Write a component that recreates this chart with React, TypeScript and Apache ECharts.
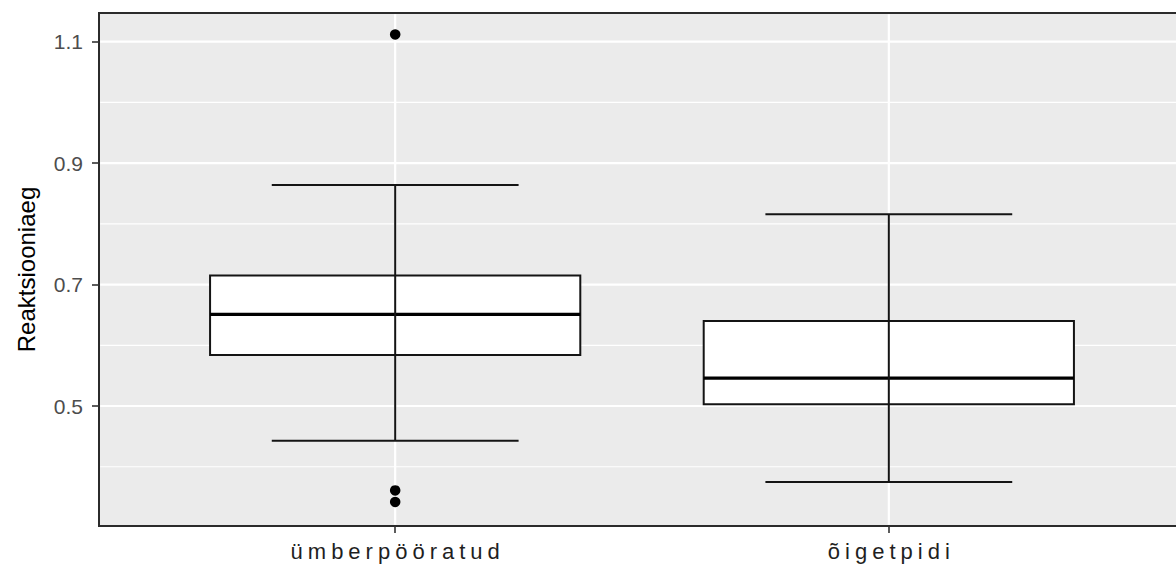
import React, { useEffect, useRef } from 'react';
import * as echarts from 'echarts';

const categories = ['ümberpööratud', 'õigetpidi'];
const positions = [1, 2];
const whiskerLow = [0.443, 0.375];
const q1 = [0.584, 0.503];
const median = [0.651, 0.546];
const q3 = [0.715, 0.640];
const whiskerHigh = [0.864, 0.816];
const outlierGroup = [1, 1, 1];
const outlierValue = [1.112, 0.361, 0.342];
const yTickValues = [0.5, 0.7, 0.9, 1.1];
const yMinorValues = [0.4, 0.6, 0.8, 1.0];
const yMin = 0.3024;
const yMax = 1.1473;
const xMin = 0.4;
const xMax = 2.6;

export default function App() {
  const ref = useRef<HTMLDivElement>(null);
  useEffect(() => {
    if (!ref.current) return;
    const chart = echarts.init(ref.current, null, { renderer: 'svg' });
    const boxData = positions.map((p, i) => [p, whiskerLow[i], q1[i], median[i], q3[i], whiskerHigh[i]]);
    const hGrid = [
      ...yMinorValues.map((v) => [v, 1.2]),
      ...yTickValues.map((v) => [v, 2.2]),
    ];
    const vGrid = positions.map((p) => [p, 2.2]);
    const option: any = {
      animation: false,
      grid: {
        show: true,
        left: 99,
        top: 13,
        right: -9,
        bottom: 42,
        containLabel: false,
        outerBoundsMode: 'none',
        backgroundColor: '#EBEBEB',
        borderColor: '#2b2b2b',
        borderWidth: 2,
      },
      xAxis: {
        type: 'value',
        min: xMin,
        max: xMax,
        axisLine: { show: false },
        splitLine: { show: false },
        axisTick: {
          show: true,
          customValues: positions,
          length: 7,
          lineStyle: { color: '#333333', width: 1.6 },
        },
        axisLabel: {
          customValues: positions,
          formatter: (v: number) => categories[Math.round(v) - 1] ?? '',
          color: '#1f1f1f',
          fontSize: 22,
          fontFamily: 'Liberation Sans',
          margin: 14,
          padding: [0, 0, 0, 5],
        },
      },
      yAxis: {
        type: 'value',
        min: yMin,
        max: yMax,
        name: 'Reaktsiooniaeg',
        nameLocation: 'middle',
        nameGap: 61,
        nameTextStyle: { fontSize: 24, color: '#000000', fontFamily: 'Liberation Sans' },
        axisLine: { show: false },
        splitLine: { show: false },
        axisTick: {
          show: true,
          customValues: yTickValues,
          length: 7,
          lineStyle: { color: '#333333', width: 1.6 },
        },
        axisLabel: {
          customValues: yTickValues,
          formatter: (v: number) => v.toFixed(1),
          color: '#4D4D4D',
          fontSize: 21,
          fontFamily: 'Liberation Sans',
          margin: 16,
        },
      },
      series: [
        {
          type: 'custom',
          z: 1,
          silent: true,
          data: hGrid,
          encode: { y: 0 },
          renderItem: (params: any, api: any) => {
            const cs = params.coordSys;
            const y = api.coord([1, api.value(0)])[1];
            return {
              type: 'line',
              shape: { x1: cs.x + 1.2, y1: y, x2: cs.x + cs.width - 1.2, y2: y },
              style: { stroke: '#FFFFFF', lineWidth: api.value(1) },
            };
          },
        },
        {
          type: 'custom',
          z: 1,
          silent: true,
          data: vGrid,
          encode: { x: 0 },
          renderItem: (params: any, api: any) => {
            const cs = params.coordSys;
            const x = api.coord([api.value(0), 0.5])[0];
            return {
              type: 'line',
              shape: { x1: x, y1: cs.y + 1.2, x2: x, y2: cs.y + cs.height - 1.2 },
              style: { stroke: '#FFFFFF', lineWidth: api.value(1) },
            };
          },
        },
        {
          type: 'custom',
          z: 3,
          silent: true,
          data: boxData,
          encode: { x: 0, y: [1, 2, 3, 4, 5] },
          renderItem: (params: any, api: any) => {
            const p = api.value(0);
            const lo = api.value(1);
            const a = api.value(2);
            const m = api.value(3);
            const b = api.value(4);
            const hi = api.value(5);
            const xl = api.coord([p - 0.375, m])[0];
            const xr = api.coord([p + 0.375, m])[0];
            const cl = api.coord([p - 0.25, m])[0];
            const cr = api.coord([p + 0.25, m])[0];
            const xc = api.coord([p, m])[0];
            const yLo = api.coord([p, lo])[1];
            const yA = api.coord([p, a])[1];
            const yM = api.coord([p, m])[1];
            const yB = api.coord([p, b])[1];
            const yHi = api.coord([p, hi])[1];
            const stroke = '#141414';
            const lw = 2;
            return {
              type: 'group',
              children: [
                {
                  type: 'rect',
                  shape: { x: xl, y: yB, width: xr - xl, height: yA - yB },
                  style: { fill: '#FFFFFF', stroke, lineWidth: lw },
                },
                {
                  type: 'line',
                  shape: { x1: xl, y1: yM, x2: xr, y2: yM },
                  style: { stroke: '#000000', lineWidth: 3.4 },
                },
                {
                  type: 'line',
                  shape: { x1: xc, y1: yLo, x2: xc, y2: yHi },
                  style: { stroke, lineWidth: lw },
                },
                {
                  type: 'line',
                  shape: { x1: cl, y1: yLo, x2: cr, y2: yLo },
                  style: { stroke, lineWidth: lw },
                },
                {
                  type: 'line',
                  shape: { x1: cl, y1: yHi, x2: cr, y2: yHi },
                  style: { stroke, lineWidth: lw },
                },
              ],
            };
          },
        },
        {
          type: 'scatter',
          z: 4,
          silent: true,
          symbol: 'circle',
          symbolSize: 10.5,
          itemStyle: { color: '#000000', opacity: 1 },
          data: outlierGroup.map((g, i) => [g, outlierValue[i]]),
        },
      ],
    };
    chart.setOption(option);
    return () => chart.dispose();
  }, []);
  return (
    <>
      <style>{`.chart-root text[style*="22px"] { letter-spacing: 5px; }`}</style>
      <div
        ref={ref}
        className="chart-root"
        style={{ position: 'absolute', left: 0, top: 0, width: 1176, height: 568, background: '#FFFFFF' }}
      />
    </>
  );
}
